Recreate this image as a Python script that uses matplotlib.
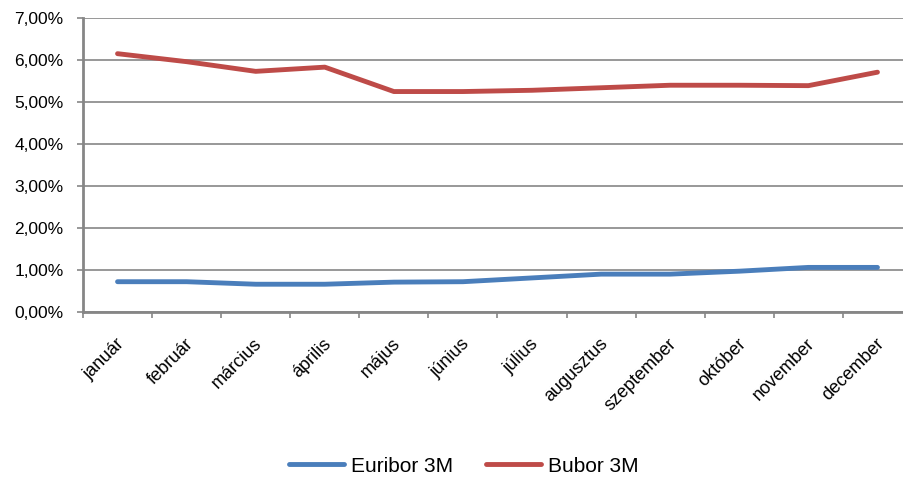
import matplotlib
matplotlib.use("Agg")
from matplotlib import pyplot as plt
from matplotlib.ticker import FuncFormatter, FixedLocator
from matplotlib.transforms import ScaledTranslation

plt.rcParams['font.family'] = ['Liberation Sans', 'DejaVu Sans']

honapok = ["január", "február", "március", "április", "május", "június",
           "július", "augusztus", "szeptember", "október", "november", "december"]
euribor = [0.72, 0.72, 0.66, 0.66, 0.71, 0.72, 0.81, 0.90, 0.90, 0.97, 1.06, 1.06]
bubor = [6.14, 5.95, 5.72, 5.82, 5.24, 5.24, 5.27, 5.33, 5.39, 5.39, 5.38, 5.70]

szurke = "#868686"

fig = plt.figure(figsize=(9.04, 4.8), dpi=100)
ax = fig.add_axes([83 / 904, 1 - 312 / 480, (912 - 83) / 904, (312 - 17.5) / 480])

x = list(range(len(honapok)))
ax.plot(x, euribor, color="#4A7EBB", lw=3.5, solid_capstyle="round",
        solid_joinstyle="round", label="Euribor 3M", zorder=3)
ax.plot(x, bubor, color="#BE4B48", lw=3.5, solid_capstyle="round",
        solid_joinstyle="round", label="Bubor 3M", zorder=3)

ax.set_xlim(-0.5, len(honapok) - 0.5)
ax.set_ylim(0, 7)
ax.set_yticks(range(0, 8))
ax.yaxis.set_major_formatter(FuncFormatter(lambda v, p: f"{v:.2f}%".replace(".", ",")))
ax.grid(axis="y", color=szurke, lw=1.2, zorder=1)

# kategóriák közötti osztások
ax.xaxis.set_major_locator(FixedLocator(x))
ax.xaxis.set_minor_locator(FixedLocator([i - 0.5 for i in range(len(honapok) + 1)]))
ax.set_xticklabels(honapok, rotation=45, ha="right", va="center", rotation_mode="anchor")
ax.tick_params(axis="x", which="major", length=0, pad=21, labelsize=13)
ax.tick_params(axis="x", which="minor", length=4, width=1.2, color=szurke)
ax.tick_params(axis="y", length=4, width=1.2, color=szurke, pad=10, labelsize=12.5)

# feliratok kicsit jobbra
eltolas = ScaledTranslation(4 / 100, 0, fig.dpi_scale_trans)
for t in ax.get_xticklabels():
    t.set_transform(t.get_transform() + eltolas)

for s in ["top", "right"]:
    ax.spines[s].set_visible(False)
for s in ["left", "bottom"]:
    ax.spines[s].set_color(szurke)
    ax.spines[s].set_linewidth(2)

fig.legend(loc="center", bbox_to_anchor=(464 / 904, 1 - 466 / 480), ncol=2,
           frameon=False, fontsize=15, handlelength=2.6, columnspacing=1.6,
           handletextpad=0.35)

fig.savefig("out.png", dpi=100)
